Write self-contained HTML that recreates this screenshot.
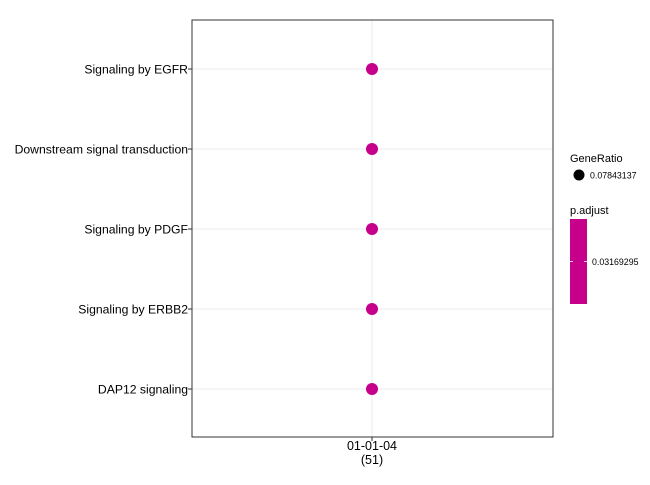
<!DOCTYPE html>
<html><head><meta charset="utf-8"><style>
body{margin:0;background:#fff;}
svg text{font-family:"Liberation Sans",sans-serif;}
</style></head><body>
<svg id="chart" width="650" height="480" xmlns="http://www.w3.org/2000/svg"></svg>
<script>
const categories = ["Signaling by EGFR","Downstream signal transduction","Signaling by PDGF","Signaling by ERBB2","DAP12 signaling"];
const xCategories = ["01-01-04"];
const xCounts = ["(51)"];
const geneRatio = [0.07843137,0.07843137,0.07843137,0.07843137,0.07843137];
const pAdjust = [0.03169295,0.03169295,0.03169295,0.03169295,0.03169295];
const legendRatioLabel = "0.07843137";
const legendPLabel = "0.03169295";

const NS="http://www.w3.org/2000/svg";
const svg=document.getElementById('chart');
function el(t,a,p){const e=document.createElementNS(NS,t);for(const k in a)e.setAttribute(k,a[k]);(p||svg).appendChild(e);return e;}
const L=192,R=553,T=20,B=437;
const yPos=i=>69+i*80;
const xPos=j=>372+j*0;
const rad=v=>6*Math.sqrt(v/0.07843137);
const color="#C6008A";

const panel=el('rect',{x:L,y:T,width:R-L,height:B-T,fill:'#fff'});


categories.forEach((c,i)=>{
  const g=el('line',{x1:L,x2:R,y1:yPos(i),y2:yPos(i),stroke:'#ebebeb','stroke-width':1});
  
  
});
xCategories.forEach((c,j)=>{
  const g=el('line',{x1:xPos(j),x2:xPos(j),y1:T,y2:B,stroke:'#ebebeb','stroke-width':1});
  
  
});
const border=el('rect',{x:L,y:T,width:R-L,height:B-T,fill:'none',stroke:'#333','stroke-width':1});



categories.forEach((c,i)=>{
  const tk=el('line',{x1:L-4,x2:L,y1:yPos(i),y2:yPos(i),stroke:'#333'});
  
  
  const t=el('text',{x:L-4,y:yPos(i)+4.5,'text-anchor':'end','font-size':12.2,fill:'#000'});
  t.textContent=c;
  
  
  const d=el('circle',{cx:xPos(0),cy:yPos(i),r:rad(geneRatio[i]),fill:color});
  
  
});
xCategories.forEach((c,j)=>{
  const tk=el('line',{x1:xPos(j),x2:xPos(j),y1:B,y2:B+4,stroke:'#333'});
  
  
  const t=el('text',{x:xPos(j),y:B+13,'text-anchor':'middle','font-size':12.5,fill:'#000'});
  t.textContent=c;
  
  
  const t2=el('text',{x:xPos(j),y:B+27,'text-anchor':'middle','font-size':12.5,fill:'#000'});
  t2.textContent=xCounts[j];
  
  
});

const lt1=el('text',{x:570,y:162,'font-size':11,fill:'#000'});lt1.textContent="GeneRatio";


const ld=el('circle',{cx:579,cy:175,r:5.5,fill:'#000'});


const ll=el('text',{x:590,y:178.5,'font-size':8.8,fill:'#000'});ll.textContent=legendRatioLabel;


const lt2=el('text',{x:570,y:214,'font-size':11,fill:'#000'});lt2.textContent="p.adjust";


const cb=el('rect',{x:570,y:219,width:17,height:85,fill:color});


[570,584].forEach(x=>{const t=el('line',{x1:x,x2:x+3,y1:261.5,y2:261.5,stroke:'#fff','stroke-width':0.8});

});
const pl=el('text',{x:592,y:265,'font-size':8.8,fill:'#000'});pl.textContent=legendPLabel;


</script>
</body></html>
